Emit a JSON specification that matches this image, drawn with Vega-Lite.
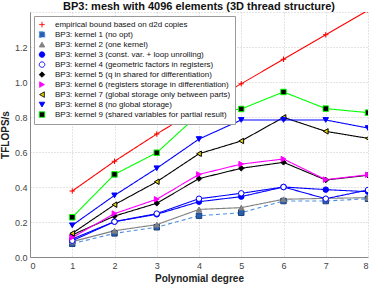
{
  "$schema": "https://vega.github.io/schema/vega-lite/v6.json",
  "width": 338,
  "height": 245,
  "autosize": "none",
  "padding": {"left": 30, "top": 12, "right": 6, "bottom": 32},
  "config": {
    "font": "Liberation Sans",
    "view": {"stroke": null},
    "axis": {"labelFont": "Liberation Sans", "titleFont": "Liberation Sans", "labelFontSize": 9, "labelColor": "#444", "titleFontSize": 10, "titleFontWeight": "bold", "titleColor": "#222", "domainColor": "#888", "gridColor": "#c8c8c8", "gridDash": [1, 2], "ticks": false}
  },
  "title": {"text": "BP3: mesh with 4096 elements (3D thread structure)", "fontSize": 11, "fontWeight": "bold", "font": "Liberation Sans", "color": "#111", "offset": 0, "anchor": "middle", "frame": "group"},
  "datasets": {
    "d": [
      {"s": "empirical bound based on d2d copies", "x": 1, "y": 0.377}, {"s": "empirical bound based on d2d copies", "x": 2, "y": 0.547}, {"s": "empirical bound based on d2d copies", "x": 3, "y": 0.703}, {"s": "empirical bound based on d2d copies", "x": 4, "y": 0.85}, {"s": "empirical bound based on d2d copies", "x": 5, "y": 0.99}, {"s": "empirical bound based on d2d copies", "x": 6, "y": 1.13}, {"s": "empirical bound based on d2d copies", "x": 7, "y": 1.27}, {"s": "empirical bound based on d2d copies", "x": 8, "y": 1.41},
      {"s": "BP3: kernel 1 (no opt)", "x": 1, "y": 0.076}, {"s": "BP3: kernel 1 (no opt)", "x": 2, "y": 0.135}, {"s": "BP3: kernel 1 (no opt)", "x": 3, "y": 0.17}, {"s": "BP3: kernel 1 (no opt)", "x": 4, "y": 0.236}, {"s": "BP3: kernel 1 (no opt)", "x": 5, "y": 0.253}, {"s": "BP3: kernel 1 (no opt)", "x": 6, "y": 0.32}, {"s": "BP3: kernel 1 (no opt)", "x": 7, "y": 0.32}, {"s": "BP3: kernel 1 (no opt)", "x": 8, "y": 0.333},
      {"s": "BP3: kernel 2 (one kernel)", "x": 1, "y": 0.088}, {"s": "BP3: kernel 2 (one kernel)", "x": 2, "y": 0.15}, {"s": "BP3: kernel 2 (one kernel)", "x": 3, "y": 0.185}, {"s": "BP3: kernel 2 (one kernel)", "x": 4, "y": 0.272}, {"s": "BP3: kernel 2 (one kernel)", "x": 5, "y": 0.282}, {"s": "BP3: kernel 2 (one kernel)", "x": 6, "y": 0.33}, {"s": "BP3: kernel 2 (one kernel)", "x": 7, "y": 0.335}, {"s": "BP3: kernel 2 (one kernel)", "x": 8, "y": 0.339},
      {"s": "BP3: kernel 3 (const. var. + loop unrolling)", "x": 1, "y": 0.103}, {"s": "BP3: kernel 3 (const. var. + loop unrolling)", "x": 2, "y": 0.202}, {"s": "BP3: kernel 3 (const. var. + loop unrolling)", "x": 3, "y": 0.244}, {"s": "BP3: kernel 3 (const. var. + loop unrolling)", "x": 4, "y": 0.316}, {"s": "BP3: kernel 3 (const. var. + loop unrolling)", "x": 5, "y": 0.345}, {"s": "BP3: kernel 3 (const. var. + loop unrolling)", "x": 6, "y": 0.4}, {"s": "BP3: kernel 3 (const. var. + loop unrolling)", "x": 7, "y": 0.385}, {"s": "BP3: kernel 3 (const. var. + loop unrolling)", "x": 8, "y": 0.373},
      {"s": "BP3: kernel 4 (geometric factors in registers)", "x": 1, "y": 0.093}, {"s": "BP3: kernel 4 (geometric factors in registers)", "x": 2, "y": 0.202}, {"s": "BP3: kernel 4 (geometric factors in registers)", "x": 3, "y": 0.248}, {"s": "BP3: kernel 4 (geometric factors in registers)", "x": 4, "y": 0.333}, {"s": "BP3: kernel 4 (geometric factors in registers)", "x": 5, "y": 0.364}, {"s": "BP3: kernel 4 (geometric factors in registers)", "x": 6, "y": 0.4}, {"s": "BP3: kernel 4 (geometric factors in registers)", "x": 7, "y": 0.333}, {"s": "BP3: kernel 4 (geometric factors in registers)", "x": 8, "y": 0.383},
      {"s": "BP3: kernel 5 (q in shared for differentiation)", "x": 1, "y": 0.126}, {"s": "BP3: kernel 5 (q in shared for differentiation)", "x": 2, "y": 0.234}, {"s": "BP3: kernel 5 (q in shared for differentiation)", "x": 3, "y": 0.307}, {"s": "BP3: kernel 5 (q in shared for differentiation)", "x": 4, "y": 0.448}, {"s": "BP3: kernel 5 (q in shared for differentiation)", "x": 5, "y": 0.507}, {"s": "BP3: kernel 5 (q in shared for differentiation)", "x": 6, "y": 0.541}, {"s": "BP3: kernel 5 (q in shared for differentiation)", "x": 7, "y": 0.44}, {"s": "BP3: kernel 5 (q in shared for differentiation)", "x": 8, "y": 0.467},
      {"s": "BP3: kernel 6 (registers storage in differentiation)", "x": 1, "y": 0.112}, {"s": "BP3: kernel 6 (registers storage in differentiation)", "x": 2, "y": 0.248}, {"s": "BP3: kernel 6 (registers storage in differentiation)", "x": 3, "y": 0.33}, {"s": "BP3: kernel 6 (registers storage in differentiation)", "x": 4, "y": 0.472}, {"s": "BP3: kernel 6 (registers storage in differentiation)", "x": 5, "y": 0.531}, {"s": "BP3: kernel 6 (registers storage in differentiation)", "x": 6, "y": 0.56}, {"s": "BP3: kernel 6 (registers storage in differentiation)", "x": 7, "y": 0.442}, {"s": "BP3: kernel 6 (registers storage in differentiation)", "x": 8, "y": 0.47},
      {"s": "BP3: kernel 7 (global storage only between parts)", "x": 1, "y": 0.135}, {"s": "BP3: kernel 7 (global storage only between parts)", "x": 2, "y": 0.299}, {"s": "BP3: kernel 7 (global storage only between parts)", "x": 3, "y": 0.43}, {"s": "BP3: kernel 7 (global storage only between parts)", "x": 4, "y": 0.59}, {"s": "BP3: kernel 7 (global storage only between parts)", "x": 5, "y": 0.663}, {"s": "BP3: kernel 7 (global storage only between parts)", "x": 6, "y": 0.798}, {"s": "BP3: kernel 7 (global storage only between parts)", "x": 7, "y": 0.718}, {"s": "BP3: kernel 7 (global storage only between parts)", "x": 8, "y": 0.678},
      {"s": "BP3: kernel 8 (no global storage)", "x": 1, "y": 0.181}, {"s": "BP3: kernel 8 (no global storage)", "x": 2, "y": 0.352}, {"s": "BP3: kernel 8 (no global storage)", "x": 3, "y": 0.507}, {"s": "BP3: kernel 8 (no global storage)", "x": 4, "y": 0.674}, {"s": "BP3: kernel 8 (no global storage)", "x": 5, "y": 0.783}, {"s": "BP3: kernel 8 (no global storage)", "x": 6, "y": 0.783}, {"s": "BP3: kernel 8 (no global storage)", "x": 7, "y": 0.783}, {"s": "BP3: kernel 8 (no global storage)", "x": 8, "y": 0.737},
      {"s": "BP3: kernel 9 (shared variables for partial result)", "x": 1, "y": 0.227}, {"s": "BP3: kernel 9 (shared variables for partial result)", "x": 2, "y": 0.472}, {"s": "BP3: kernel 9 (shared variables for partial result)", "x": 3, "y": 0.596}, {"s": "BP3: kernel 9 (shared variables for partial result)", "x": 4, "y": 0.817}, {"s": "BP3: kernel 9 (shared variables for partial result)", "x": 5, "y": 0.846}, {"s": "BP3: kernel 9 (shared variables for partial result)", "x": 6, "y": 0.943}, {"s": "BP3: kernel 9 (shared variables for partial result)", "x": 7, "y": 0.848}, {"s": "BP3: kernel 9 (shared variables for partial result)", "x": 8, "y": 0.825}
    ]
  },
  "data": {"name": "d"},
  "encoding": {
    "x": {"field": "x", "type": "quantitative", "scale": {"domain": [0, 8], "nice": false, "zero": false}, "axis": {"title": "Polynomial degree", "values": [0, 1, 2, 3, 4, 5, 6, 7, 8], "format": "d", "labelPadding": 4, "titlePadding": 3}},
    "y": {"field": "y", "type": "quantitative", "scale": {"domain": [0, 1.4], "nice": false}, "axis": {"title": "TFLOPS/s", "values": [0, 0.2, 0.4, 0.6, 0.8, 1, 1.2, 1.4], "labelExpr": "datum.value > 1.3 ? '' : datum.label", "labelPadding": 3, "titlePadding": 4}}
  },
  "layer": [
    {
      "mark": {"type": "line", "strokeWidth": 1.1, "clip": true},
      "encoding": {
        "color": {"field": "s", "type": "nominal", "scale": {"domain": ["empirical bound based on d2d copies", "BP3: kernel 1 (no opt)", "BP3: kernel 2 (one kernel)", "BP3: kernel 3 (const. var. + loop unrolling)", "BP3: kernel 4 (geometric factors in registers)", "BP3: kernel 5 (q in shared for differentiation)", "BP3: kernel 6 (registers storage in differentiation)", "BP3: kernel 7 (global storage only between parts)", "BP3: kernel 8 (no global storage)", "BP3: kernel 9 (shared variables for partial result)"], "range": ["#ff0000", "#4a90e2", "#808080", "#0000ff", "#0000ff", "#000000", "#ff00ff", "#000000", "#0000ff", "#00ff00"]}},
        "strokeDash": {"field": "s", "type": "nominal", "scale": {"domain": ["empirical bound based on d2d copies", "BP3: kernel 1 (no opt)", "BP3: kernel 2 (one kernel)", "BP3: kernel 3 (const. var. + loop unrolling)", "BP3: kernel 4 (geometric factors in registers)", "BP3: kernel 5 (q in shared for differentiation)", "BP3: kernel 6 (registers storage in differentiation)", "BP3: kernel 7 (global storage only between parts)", "BP3: kernel 8 (no global storage)", "BP3: kernel 9 (shared variables for partial result)"], "range": [[1, 0], [4, 3], [1, 0], [1, 0], [1, 0], [1, 0], [1, 0], [1, 0], [1, 0], [1, 0]]}}
      }
    },
    {
      "mark": {"type": "point", "filled": true, "opacity": 1, "size": 30, "strokeWidth": 1, "clip": true},
      "encoding": {
        "shape": {"field": "s", "type": "nominal", "scale": {"domain": ["empirical bound based on d2d copies", "BP3: kernel 1 (no opt)", "BP3: kernel 2 (one kernel)", "BP3: kernel 3 (const. var. + loop unrolling)", "BP3: kernel 4 (geometric factors in registers)", "BP3: kernel 5 (q in shared for differentiation)", "BP3: kernel 6 (registers storage in differentiation)", "BP3: kernel 7 (global storage only between parts)", "BP3: kernel 8 (no global storage)", "BP3: kernel 9 (shared variables for partial result)"], "range": ["M-1,0H1M0,-1V1", "square", "triangle-up", "circle", "circle", "diamond", "triangle-right", "triangle-left", "triangle-down", "square"]},
          "legend": {
            "title": null, "orient": "top-left", "offset": 4, "padding": 4, "fillColor": "white", "strokeColor": "#9a9a9a", "cornerRadius": 0,
            "labelFont": "Liberation Sans", "labelFontSize": 8, "labelColor": "#111", "labelOffset": 9, "rowPadding": 0, "clipHeight": 9.2, "symbolSize": 30, "symbolStrokeWidth": 1, "symbolOpacity": 1, "labelLimit": 300
          }
        },
        "fill": {"field": "s", "type": "nominal", "scale": {"domain": ["empirical bound based on d2d copies", "BP3: kernel 1 (no opt)", "BP3: kernel 2 (one kernel)", "BP3: kernel 3 (const. var. + loop unrolling)", "BP3: kernel 4 (geometric factors in registers)", "BP3: kernel 5 (q in shared for differentiation)", "BP3: kernel 6 (registers storage in differentiation)", "BP3: kernel 7 (global storage only between parts)", "BP3: kernel 8 (no global storage)", "BP3: kernel 9 (shared variables for partial result)"], "range": ["transparent", "#2a5fb0", "#808080", "#0000ff", "#ffffff", "#000000", "#ff00ff", "#e0d000", "#0000ff", "#000000"]}},
        "stroke": {"field": "s", "type": "nominal", "scale": {"domain": ["empirical bound based on d2d copies", "BP3: kernel 1 (no opt)", "BP3: kernel 2 (one kernel)", "BP3: kernel 3 (const. var. + loop unrolling)", "BP3: kernel 4 (geometric factors in registers)", "BP3: kernel 5 (q in shared for differentiation)", "BP3: kernel 6 (registers storage in differentiation)", "BP3: kernel 7 (global storage only between parts)", "BP3: kernel 8 (no global storage)", "BP3: kernel 9 (shared variables for partial result)"], "range": ["#ff0000", "#1c3d78", "#808080", "#0000ff", "#0000ff", "#000000", "#ff00ff", "#000000", "#0000ff", "#00ff00"]}}
      }
    }
  ]
}
